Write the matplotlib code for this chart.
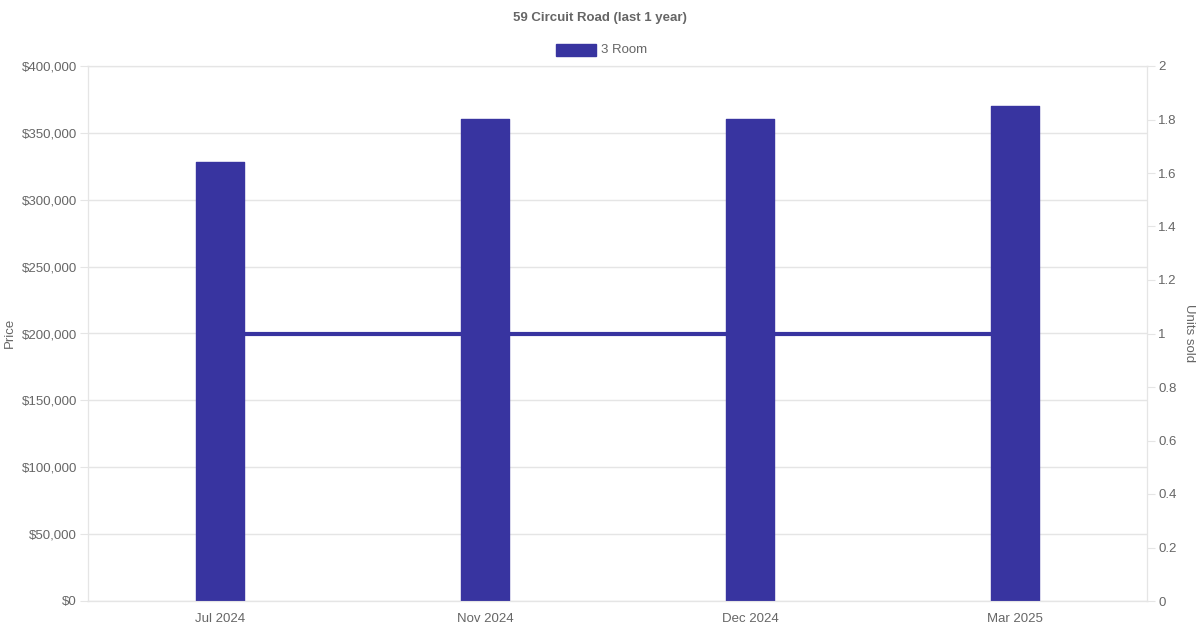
import matplotlib.pyplot as plt
from matplotlib.ticker import FuncFormatter

# data
months = ["Jul 2024", "Nov 2024", "Dec 2024", "Mar 2025"]
prices = [328000, 360000, 360000, 370000]
units = [1, 1, 1, 1]

bar_color = "#3834a0"
text_color = "#666666"
grid_color = "#e5e5e5"

plt.rcParams["font.family"] = ["Liberation Sans", "DejaVu Sans"]

fig = plt.figure(figsize=(12, 6.3), dpi=100)
ax = fig.add_axes([88 / 1200, 1 - 601 / 630, (1147 - 88) / 1200, (601 - 66) / 630])
ax2 = ax.twinx()

x = list(range(len(months)))
bw = 0.182

ax.set_xlim(-0.5, len(months) - 0.5)
ax.set_ylim(0, 400000)
ax2.set_ylim(0, 2)

# bars (edge in same colour, round joins give soft corners)
ax.bar(x, prices, width=bw, color=bar_color, edgecolor=bar_color,
       linewidth=1.0, joinstyle="round", zorder=3)

# units line in right-axis coordinates, drawn under the bars
ax.plot(x, units, color=bar_color, lw=3, zorder=2, transform=ax2.transData)

ax.set_yticks(range(0, 400001, 50000))
ax.yaxis.set_major_formatter(FuncFormatter(lambda v, _: f"${v:,.0f}"))
ax2.set_yticks([i * 0.2 for i in range(11)])
ax2.yaxis.set_major_formatter(FuncFormatter(lambda v, _: f"{v:g}"))
ax.set_xticks(x)
ax.set_xticklabels(months)

ax.grid(axis="y", color=grid_color, lw=1, zorder=0)
ax.grid(axis="x", visible=False)
for a in (ax, ax2):
    for s in a.spines.values():
        s.set_color(grid_color)
    a.tick_params(colors=text_color, labelsize=9.5, length=6, color=grid_color)
    a.tick_params(axis="y", pad=2)
ax.spines["bottom"].set_color("#cccccc")
ax.tick_params(axis="x", length=0, pad=8.5)

fig.text(10 / 1200, 1 - 333 / 630, "Price", rotation=90, ha="center", va="center",
         color=text_color, fontsize=9.5)
fig.text(1189 / 1200, 1 - 333 / 630, "Units sold", rotation=270, ha="center", va="center",
         color=text_color, fontsize=9.5)

fig.text(0.5, 1 - 18 / 630, "59 Circuit Road (last 1 year)", ha="center", va="center",
         color=text_color, fontsize=9.5, fontweight="bold")
fig.patches.append(plt.Rectangle((556 / 1200, 1 - 56 / 630), 40 / 1200, 12 / 630,
                                 transform=fig.transFigure, color=bar_color))
fig.text(601 / 1200, 1 - 50 / 630, "3 Room", ha="left", va="center",
         color=text_color, fontsize=9.5)

fig.savefig("out.png", dpi=100)
